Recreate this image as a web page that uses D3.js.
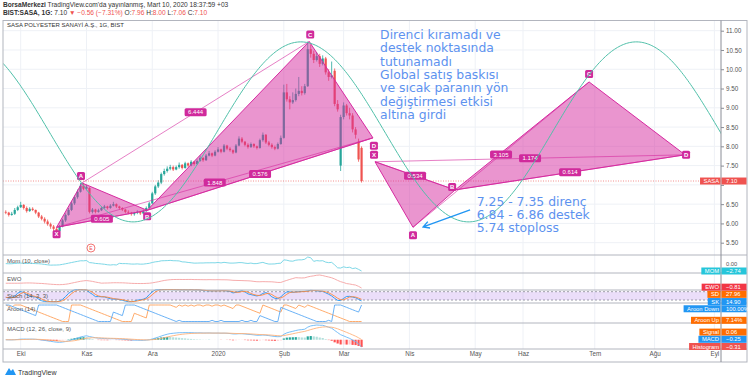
<!DOCTYPE html>
<html>
<head>
<meta charset="utf-8">
<script src="https://cdn.jsdelivr.net/npm/d3@7"></script>
<style>
body { margin: 0; background: #fff; }
svg { display: block; font-family: "Liberation Sans", Arial, sans-serif; }
</style>
</head>
<body>
<div id="chart"></div>
<script>
// daily bars, bar index 0 = 1 Oct 2019 (first visible bar is index -5)
var firstIndex = -5;
var opens = [6.30,6.28,6.22,6.25,6.35,6.42,6.48,6.40,6.32,6.38,6.35,6.28,6.18,6.12,6.05,5.98,5.92,5.86,5.80,5.92,
  6.08,6.22,6.35,6.52,6.68,6.82,6.98,6.90,6.92,6.30,6.36,6.30,6.34,6.40,6.44,6.40,6.46,6.50,6.44,6.40,
  6.36,6.30,6.28,6.24,6.27,6.30,6.26,6.32,6.40,6.52,6.78,6.96,7.06,7.28,7.36,7.42,7.46,7.40,7.46,7.52,
  7.44,7.56,7.50,7.60,7.54,7.62,7.70,7.64,7.76,7.82,7.76,7.86,7.92,7.86,8.02,7.94,7.90,7.84,8.02,8.20,
  8.12,8.04,7.98,8.06,8.00,7.96,8.16,8.30,8.10,8.04,7.98,7.94,8.06,8.22,9.40,9.22,9.14,9.20,9.36,9.44,
  9.38,9.56,10.52,10.40,10.24,10.34,10.14,10.28,9.92,9.80,9.96,9.10,7.50,8.76,9.06,8.86,8.80,8.44,8.12,7.96];
var highs = [6.34,6.30,6.30,6.40,6.46,6.56,6.50,6.44,6.42,6.42,6.36,6.30,6.22,6.16,6.10,6.02,5.96,5.90,5.96,6.12,
  6.26,6.40,6.58,6.72,6.88,7.05,7.04,7.00,6.94,6.40,6.38,6.38,6.44,6.48,6.46,6.50,6.56,6.52,6.46,6.42,
  6.38,6.34,6.30,6.30,6.34,6.32,6.36,6.44,6.56,6.82,7.00,7.12,7.32,7.42,7.48,7.52,7.50,7.50,7.58,7.54,
  7.60,7.58,7.64,7.62,7.66,7.76,7.72,7.80,7.88,7.84,7.90,7.98,7.94,8.06,8.04,7.98,7.92,8.06,8.26,8.24,
  8.14,8.08,8.10,8.08,8.02,8.20,8.36,8.32,8.14,8.08,8.02,8.10,8.28,9.60,9.62,9.30,9.40,9.50,9.80,9.56,
  9.62,10.72,10.64,10.48,10.44,10.40,10.36,10.32,10.00,10.20,10.02,9.20,8.82,9.14,9.10,9.00,8.86,8.50,8.20,8.00];
var lows = [6.24,6.18,6.20,6.22,6.32,6.40,6.36,6.28,6.30,6.32,6.24,6.14,6.08,6.00,5.94,5.86,5.80,5.74,5.78,5.90,
  6.04,6.20,6.32,6.48,6.64,6.80,6.86,6.86,6.26,6.26,6.26,6.28,6.32,6.38,6.36,6.38,6.44,6.40,6.36,6.32,
  6.26,6.24,6.20,6.20,6.24,6.22,6.24,6.30,6.38,6.50,6.74,6.92,7.02,7.24,7.32,7.38,7.36,7.38,7.42,7.40,
  7.42,7.46,7.48,7.50,7.52,7.60,7.60,7.62,7.74,7.72,7.74,7.84,7.82,7.84,7.90,7.86,7.80,7.82,8.00,8.08,
  8.00,7.94,7.96,7.96,7.92,7.94,8.12,8.06,8.00,7.94,7.90,7.92,8.04,8.20,9.16,8.96,9.10,9.16,9.30,9.32,
  9.34,9.54,10.30,10.16,10.20,10.06,10.10,9.86,9.70,9.76,9.04,8.90,7.36,8.70,8.80,8.70,8.36,8.20,7.60,7.06];
var closes = [6.28,6.22,6.25,6.35,6.42,6.48,6.40,6.32,6.38,6.35,6.28,6.18,6.12,6.05,5.98,5.92,5.86,5.80,5.92,6.08,
  6.22,6.35,6.52,6.68,6.82,6.98,6.90,6.95,6.30,6.36,6.30,6.34,6.40,6.44,6.40,6.46,6.50,6.44,6.40,6.36,
  6.30,6.28,6.24,6.27,6.30,6.26,6.32,6.40,6.52,6.78,6.96,7.06,7.28,7.36,7.42,7.46,7.40,7.46,7.52,7.44,
  7.56,7.50,7.60,7.54,7.62,7.70,7.64,7.76,7.82,7.76,7.86,7.92,7.86,8.02,7.94,7.90,7.84,8.02,8.20,8.12,
  8.04,7.98,8.06,8.00,7.96,8.16,8.30,8.10,8.04,7.98,7.94,8.06,8.22,9.40,9.22,9.14,9.20,9.36,9.44,9.38,
  9.56,10.52,10.40,10.24,10.34,10.14,10.28,9.92,9.80,9.84,9.10,8.96,8.76,9.06,8.86,8.80,8.44,8.30,7.66,7.10];

var monthLabels = ["Eki", "Kas", "Ara", "2020", "Şub", "Mar", "Nis", "May", "Haz", "Tem", "Ağu", "Eyl"];
var monthIndex = [0, 22, 44, 66, 88, 108, 130, 152, 168, 192, 212, 232];
var priceTicks = [5.5, 6, 6.5, 7, 7.5, 8, 8.5, 9, 9.5, 10, 10.5, 11];
var lastPrice = 7.10;

// XABCD harmonic drawings: [point, bar index, price]
var pattern1 = [["X", 12, 5.90], ["A", 20.5, 7.05], ["B", 42.3, 6.34], ["C", 96.5, 10.72], ["D", 117.8, 8.22]];
var pattern1Ratios = ["0.605", "6.444", "0.576", "1.848"]; // XB, AC, BD, XD
var pattern2 = [["X", 118.5, 7.60], ["A", 131.2, 5.90], ["B", 145.3, 6.87], ["C", 190.1, 9.67], ["D", 222.2, 7.78]];
var pattern2Ratios = ["0.534", "3.105", "0.614", "1.174"];

// sine line drawing anchors [bar index, price]
var sinePeak = [93.7, 10.71];
var sineTrough = [149.8, 6.04];

var arrowFrom = [150.3, 6.35];
var arrowTo = [134.6, 5.91];

var note1 = ["Direnci kıramadı ve", "destek noktasında", "tutunamadı", "Global satış baskısı", "ve sıcak paranın yön", "değiştirmesi etkisi", "altına girdi"];
var note1Anchor = [120.2, 10.79];
var note2 = ["7.25 - 7.35 direnç", "6.84 - 6.86 destek", "5.74 stoploss"];
var note2Anchor = [152.5, 6.46];

// last values shown on the right scale
var indicatorNames = ["MOM", "EWO", "SD", "SK", "Aroon Down", "Aroon Up", "Signal", "MACD", "Histogram"];
var indicatorValues = [-2.74, -0.81, 27.96, 14.90, 100.00, 7.14, 0.06, -0.25, -0.31];

var W = 750, H = 378;
var frameLeft = 3, plotRight = 721, frameRight = 747;
var upColor = "#26a69a", downColor = "#ef5350";
var patColor = "#d62ba0";

var svg = d3.select("#chart").append("svg").attr("width", W).attr("height", H);

var x = d3.scaleLinear().domain([0, 108]).range([20.7, 20.7 + 108 * 2.99]);
var y = d3.scaleLinear().domain([5.5, 11]).range([242.7, 30.7]);

var panes = {
  main: {top: 20.5, bottom: 255},
  mom: {top: 255, bottom: 273},
  ewo: {top: 273, bottom: 290},
  stoch: {top: 290, bottom: 303},
  aroon: {top: 303, bottom: 323},
  macd: {top: 323, bottom: 349}
};
var axisBottom = 362;

// ---------- header ----------
var h1 = svg.append("text").attr("x", 3).attr("y", 7).attr("font-size", 6.6).attr("fill", "#333");
h1.append("tspan").attr("font-weight", "bold").text("BorsaMerkezi");
h1.append("tspan").text(" TradingView.com'da yayınlanmış, Mart 10, 2020 18:37:59 +03");
var h2 = svg.append("text").attr("x", 3).attr("y", 15).attr("font-size", 6.6).attr("fill", "#333");
h2.append("tspan").attr("font-weight", "bold").text("BIST:SASA, 1G:");
h2.append("tspan").text(" 7.10 ");
h2.append("tspan").attr("fill", downColor).text("▼ −0.56 (−7.31%)");
[["O:", "7.96"], ["H:", "8.00"], ["L:", "7.06"], ["C:", "7.10"]].forEach(function(d){
  h2.append("tspan").text(" " + d[0]);
  h2.append("tspan").attr("fill", downColor).text(d[1]);
});

// ---------- grid ----------
var grid = svg.append("g").attr("stroke", "#eef1f6").attr("stroke-width", 1);
priceTicks.forEach(function(p){
  grid.append("line").attr("x1", frameLeft).attr("x2", plotRight).attr("y1", y(p)).attr("y2", y(p));
});
monthIndex.forEach(function(i){
  grid.append("line").attr("x1", x(i)).attr("x2", x(i)).attr("y1", panes.main.top).attr("y2", panes.macd.bottom);
});

svg.append("defs").append("clipPath").attr("id", "mainClip")
  .append("rect").attr("x", frameLeft).attr("y", panes.main.top).attr("width", plotRight - frameLeft).attr("height", panes.main.bottom - panes.main.top);

var main = svg.append("g").attr("clip-path", "url(#mainClip)");

// legend
svg.append("text").attr("x", 7).attr("y", 27).attr("font-size", 6).attr("fill", "#333")
  .text("SASA POLYESTER SANAYİ A.Ş., 1G, BIST");

// ---------- candles ----------
var candles = closes.map(function(c, k){
  return {i: k + firstIndex, o: opens[k], h: highs[k], l: lows[k], c: c};
});

main.selectAll("line.wick").data(candles).enter().append("line")
  .attr("class", "wick")
  .attr("x1", function(d){ return x(d.i); })
  .attr("x2", function(d){ return x(d.i); })
  .attr("y1", function(d){ return y(d.h); })
  .attr("y2", function(d){ return y(d.l); })
  .attr("stroke", function(d){ return d.c >= d.o ? upColor : downColor; })
  .attr("stroke-width", 0.8);

main.selectAll("rect.body").data(candles).enter().append("rect")
  .attr("class", "body")
  .attr("x", function(d){ return x(d.i) - 1.1; })
  .attr("width", 2.2)
  .attr("y", function(d){ return y(Math.max(d.o, d.c)); })
  .attr("height", function(d){ return Math.max(0.8, Math.abs(y(d.o) - y(d.c))); })
  .attr("fill", function(d){ return d.c >= d.o ? upColor : downColor; });

// last price line
main.append("line").attr("x1", frameLeft).attr("x2", plotRight)
  .attr("y1", y(lastPrice)).attr("y2", y(lastPrice))
  .attr("stroke", downColor).attr("stroke-width", 0.8).attr("stroke-dasharray", "1,1.5").attr("opacity", 0.8);

// ---------- harmonic patterns ----------
function pt(p){ return [x(p[1]), y(p[2])]; }

function drawPattern(points, ratios, offsets){
  var g = main.append("g");
  var X = pt(points[0]), A = pt(points[1]), B = pt(points[2]), C = pt(points[3]), D = pt(points[4]);
  [[X, A, B], [B, C, D]].forEach(function(tri){
    g.append("path").attr("d", d3.line()(tri) + "Z")
      .attr("fill", patColor).attr("fill-opacity", 0.5)
      .attr("stroke", patColor).attr("stroke-width", 1);
  });
  var pairs = [[X, B], [A, C], [B, D], [X, D]];
  pairs.forEach(function(pp, k){
    g.append("line").attr("x1", pp[0][0]).attr("y1", pp[0][1]).attr("x2", pp[1][0]).attr("y2", pp[1][1])
      .attr("stroke", patColor).attr("stroke-width", 0.8).attr("opacity", 0.75);
    var mx = (pp[0][0] + pp[1][0]) / 2, my = (pp[0][1] + pp[1][1]) / 2;
    g.append("rect").attr("x", mx - 11).attr("y", my - 4).attr("width", 22).attr("height", 8).attr("rx", 1.5)
      .attr("fill", "#d02a9c");
    g.append("text").attr("x", mx).attr("y", my + 2.1).attr("text-anchor", "middle")
      .attr("font-size", 6).attr("fill", "#fff").text(ratios[k]);
  });
  [X, A, B, C, D].forEach(function(p, k){
    var cx = p[0] + offsets[k][0], cy = p[1] + offsets[k][1];
    g.append("rect").attr("x", cx - 4).attr("y", cy - 4).attr("width", 8).attr("height", 8).attr("rx", 1.5)
      .attr("fill", "#d02a9c");
    g.append("text").attr("x", cx).attr("y", cy + 2.2).attr("text-anchor", "middle")
      .attr("font-size", 6).attr("font-weight", "bold").attr("fill", "#fff").text(points[k][0]);
  });
}
drawPattern(pattern1, pattern1Ratios, [[0, 7], [-1, -7], [0, 6], [1, -7], [1, 8]]);
drawPattern(pattern2, pattern2Ratios, [[-1, -7], [0, 8], [-3, -3], [0, -8], [1, 0]]);

// ---------- sine line ----------
var halfPeriod = sineTrough[0] - sinePeak[0];
var sineMid = (sinePeak[1] + sineTrough[1]) / 2, sineAmp = (sinePeak[1] - sineTrough[1]) / 2;
var sineIdx = d3.range(x.invert(frameLeft), x.invert(plotRight) + 1, 0.5);
main.append("path")
  .attr("d", d3.line()
    .x(function(i){ return x(i); })
    .y(function(i){ return y(sineMid + sineAmp * Math.cos(Math.PI * (i - sinePeak[0]) / halfPeriod)); })(sineIdx))
  .attr("fill", "none").attr("stroke", "#4fbfa8").attr("stroke-width", 1);

// earnings marker
main.append("circle").attr("cx", x(23.5)).attr("cy", 248).attr("r", 4)
  .attr("fill", "#fff").attr("stroke", downColor).attr("stroke-width", 0.8);
main.append("text").attr("x", x(23.5)).attr("y", 250).attr("text-anchor", "middle")
  .attr("font-size", 5).attr("fill", downColor).text("E");

// ---------- notes ----------
var noteColor = "#5d92ef";
function drawNote(lines, anchor){
  var t = main.append("text").attr("font-family", "DejaVu Sans, sans-serif").attr("font-size", 12.4).attr("fill", noteColor);
  lines.forEach(function(s, k){
    t.append("tspan").attr("x", x(anchor[0])).attr("y", y(anchor[1]) + k * 13.4).text(s);
  });
}
drawNote(note1, note1Anchor);
drawNote(note2, note2Anchor);

var a0 = [x(arrowFrom[0]), y(arrowFrom[1])], a1 = [x(arrowTo[0]), y(arrowTo[1])];
var ang = Math.atan2(a1[1] - a0[1], a1[0] - a0[0]);
main.append("path")
  .attr("d", "M" + a0 + "L" + a1 +
    "M" + [a1[0] - 7 * Math.cos(ang - 0.5), a1[1] - 7 * Math.sin(ang - 0.5)] + "L" + a1 +
    "L" + [a1[0] - 7 * Math.cos(ang + 0.5), a1[1] - 7 * Math.sin(ang + 0.5)])
  .attr("fill", "none").attr("stroke", "#2196f3").attr("stroke-width", 1.4);

// ---------- indicators ----------
function sma(arr, n, i){
  var s = 0, c = 0;
  for (var k = Math.max(0, i - n + 1); k <= i; k++){ s += arr[k]; c++; }
  return s / c;
}
function ema(arr, n){
  var a = 2 / (n + 1), out = [];
  arr.forEach(function(v, i){ out.push(i == 0 ? v : a * v + (1 - a) * out[i - 1]); });
  return out;
}
var idxs = candles.map(function(d){ return d.i; });
var mom = closes.map(function(c, i){ return c - closes[Math.max(0, i - 10)]; });
var ewo = closes.map(function(c, i){ return sma(closes, 5, i) - sma(closes, 35, i); });
var rawK = closes.map(function(c, i){
  var s = Math.max(0, i - 13);
  var hh = d3.max(highs.slice(s, i + 1)), ll = d3.min(lows.slice(s, i + 1));
  return hh == ll ? 50 : 100 * (c - ll) / (hh - ll);
});
var stochK = rawK.map(function(v, i){ return sma(rawK, 3, i); });
var stochD = stochK.map(function(v, i){ return sma(stochK, 3, i); });
var aroonUp = [], aroonDown = [];
closes.forEach(function(c, i){
  var s = Math.max(0, i - 14), hiI = s, loI = s;
  for (var k = s; k <= i; k++){
    if (highs[k] >= highs[hiI]) hiI = k;
    if (lows[k] <= lows[loI]) loI = k;
  }
  aroonUp.push(100 * (14 - (i - hiI)) / 14);
  aroonDown.push(100 * (14 - (i - loI)) / 14);
});
var e12 = ema(closes, 12), e26 = ema(closes, 26);
var macd = e12.map(function(v, i){ return v - e26[i]; });
var signal = ema(macd, 9);
var hist = macd.map(function(v, i){ return v - signal[i]; });

function paneScale(p, lo, hi, pad){
  return d3.scaleLinear().domain([lo, hi]).range([panes[p].bottom - pad, panes[p].top + pad]);
}
var momY = paneScale("mom", d3.min(mom), d3.max(mom), 2);
var ewoY = paneScale("ewo", d3.min(ewo), d3.max(ewo), 2);
var stochY = d3.scaleLinear().domain([0, 100]).range([302.8, 288.9]);
var aroonY = d3.scaleLinear().domain([0, 100]).range([321.5, 305]);
var macdLo = d3.min([d3.min(macd), d3.min(signal), d3.min(hist)]);
var macdHi = d3.max([d3.max(macd), d3.max(signal), d3.max(hist)]);
var macdY = paneScale("macd", macdLo, macdHi, 2);

function drawLine(vals, sy, color){
  svg.append("path")
    .attr("d", d3.line().x(function(v, k){ return x(idxs[k]); }).y(function(v){ return sy(v); })(vals))
    .attr("fill", "none").attr("stroke", color).attr("stroke-width", 0.9);
}

// stoch band
svg.append("rect").attr("x", frameLeft).attr("width", plotRight - frameLeft)
  .attr("y", stochY(80)).attr("height", stochY(20) - stochY(80))
  .attr("fill", "#9c5ce0").attr("fill-opacity", 0.2);
[80, 20].forEach(function(v){
  svg.append("line").attr("x1", frameLeft).attr("x2", plotRight).attr("y1", stochY(v)).attr("y2", stochY(v))
    .attr("stroke", "#787b86").attr("stroke-width", 0.7).attr("stroke-dasharray", "2,2");
});

// macd histogram
var barW = 2.2;
svg.selectAll("rect.hist").data(hist).enter().append("rect")
  .attr("class", "hist")
  .attr("x", function(v, k){ return x(idxs[k]) - barW / 2; })
  .attr("width", barW)
  .attr("y", function(v){ return Math.min(macdY(v), macdY(0)); })
  .attr("height", function(v){ return Math.abs(macdY(v) - macdY(0)); })
  .attr("fill", function(v, k){
    var prev = k > 0 ? hist[k - 1] : v;
    if (v >= 0) return v >= prev ? "#26a69a" : "#b2dfdb";
    return v <= prev ? "#ff5252" : "#ffcdd2";
  });

drawLine(mom, momY, "#6fd3e3");
drawLine(ewo, ewoY, "#f5a3a3");
drawLine(stochK, stochY, "#2196f3");
drawLine(stochD, stochY, "#ff8a3d");
drawLine(aroonUp, aroonY, "#ffa25a");
drawLine(aroonDown, aroonY, "#5aa9f5");
drawLine(macd, macdY, "#6ab8f7");
drawLine(signal, macdY, "#ffb27a");

// pane legends
[["Mom (10, close)", "mom"], ["EWO", "ewo"], ["Stoch (14, 3, 3)", "stoch"], ["Aroon (14)", "aroon"], ["MACD (12, 26, close, 9)", "macd"]]
  .forEach(function(d){
    svg.append("text").attr("x", 7).attr("y", panes[d[1]].top + 8).attr("font-size", 6).attr("fill", "#555").text(d[0]);
  });

// pane separators and frame
[panes.main.bottom, panes.mom.bottom, panes.ewo.bottom, panes.stoch.bottom, panes.aroon.bottom, panes.macd.bottom].forEach(function(yy){
  svg.append("line").attr("x1", frameLeft).attr("x2", frameRight).attr("y1", yy).attr("y2", yy)
    .attr("stroke", "#b2b5be").attr("stroke-width", 1);
});
svg.append("rect").attr("x", frameLeft).attr("y", panes.main.top).attr("width", frameRight - frameLeft)
  .attr("height", axisBottom - panes.main.top).attr("fill", "none").attr("stroke", "#b2b5be").attr("stroke-width", 1);
svg.append("line").attr("x1", plotRight).attr("x2", plotRight).attr("y1", panes.main.top).attr("y2", axisBottom)
  .attr("stroke", "#8a8d96").attr("stroke-width", 1);

// price axis (the tick hidden under the last-price label is left out)
var yAxis = svg.append("g").attr("transform", "translate(" + plotRight + ",0)")
  .call(d3.axisRight(y).tickValues(priceTicks).tickFormat(d3.format(".2f")).tickSize(3));
yAxis.select(".domain").remove();
yAxis.selectAll("line").attr("stroke", "#8a8d96");
yAxis.selectAll("text").attr("font-size", 6.3).attr("fill", "#555").attr("x", 5);
yAxis.selectAll(".tick").filter(function(p){ return Math.abs(y(p) - y(lastPrice)) < 7; }).select("text").remove();

// time axis
var xAxis = svg.append("g").attr("transform", "translate(0," + panes.macd.bottom + ")")
  .call(d3.axisBottom(x).tickValues(monthIndex).tickFormat(function(d, k){ return monthLabels[k]; }).tickSize(0));
xAxis.select(".domain").remove();
xAxis.selectAll("text").attr("font-size", 6.3).attr("fill", "#555").attr("dy", "0.6em").attr("y", 3);

// right scale labels
function valueBox(name, val, yy, color){
  var g = svg.append("g");
  var t = g.append("text").attr("font-size", 5.8).attr("fill", "#fff").attr("text-anchor", "end")
    .attr("x", plotRight - 2).attr("y", yy + 2).text(name);
  var w = t.node().getComputedTextLength() + 5;
  g.insert("rect", "text").attr("x", plotRight - w - 0.5).attr("y", yy - 3.5).attr("width", w).attr("height", 7).attr("fill", color);
  g.append("rect").attr("x", plotRight + 0.5).attr("y", yy - 3.5).attr("width", frameRight - plotRight - 1).attr("height", 7).attr("fill", color);
  g.append("text").attr("font-size", 5.8).attr("fill", "#fff").attr("x", plotRight + 5).attr("y", yy + 2).text(val);
}
// push overlapping labels apart, keeping each cluster centred on its values
function spread(list, gap, hi){
  var clusters = list.map(function(d){ return {items: [d], y: d.y}; });
  var merged = true;
  while (merged){
    merged = false;
    for (var k = 1; k < clusters.length; k++){
      var a = clusters[k - 1], b = clusters[k];
      var aEnd = a.y + (a.items.length - 1) * gap / 2, bStart = b.y - (b.items.length - 1) * gap / 2;
      if (bStart - aEnd < gap){
        var items = a.items.concat(b.items);
        var c = {items: items, y: d3.mean(items, function(d){ return d.y; })};
        clusters.splice(k - 1, 2, c);
        merged = true;
        break;
      }
    }
  }
  var out = [];
  clusters.forEach(function(c){
    c.items.forEach(function(d, j){ out.push({k: d.k, y: c.y + (j - (c.items.length - 1) / 2) * gap}); });
  });
  var over = out[out.length - 1].y - hi;
  for (var j = out.length - 1; j >= 0 && over > 0; j--){
    out[j].y -= over;
    if (j > 0) over = out[j - 1].y - (out[j].y - gap); else over = 0;
  }
  return out;
}
var fmt = d3.format(".2f");
valueBox("SASA", fmt(lastPrice), y(lastPrice), downColor);

svg.append("text").attr("x", plotRight + 5).attr("y", momY(0) + 2).attr("font-size", 5.8).attr("fill", "#555").text("0.00");
var labelColors = ["#26c6da", "#f23645", "#ff6d00", "#2196f3", "#2196f3", "#ff6d00", "#ff6d00", "#2196f3", "#ef5350"];
var labelScales = [momY, ewoY, stochY, stochY, aroonY, aroonY, macdY, macdY, macdY];
var labelList = indicatorValues.map(function(v, k){ return {k: k, y: labelScales[k](v)}; });
spread(labelList, 7.2, panes.macd.bottom - 2.5).forEach(function(d){
  var v = indicatorValues[d.k];
  var s = fmt(v).replace("-", "−");
  if (d.k == 4 || d.k == 5) s = fmt(v) + "%";
  valueBox(indicatorNames[d.k], s, d.y, labelColors[d.k]);
});

// footer logo
var logo = svg.append("g").attr("transform", "translate(5,370)");
logo.append("path").attr("d", "M0,5 L4,-2 L6,1 L8,-1 L11,5 Z").attr("fill", "#2196f3");
logo.append("text").attr("x", 13).attr("y", 5).attr("font-size", 7).attr("fill", "#333").text("TradingView");
</script>
</body>
</html>
